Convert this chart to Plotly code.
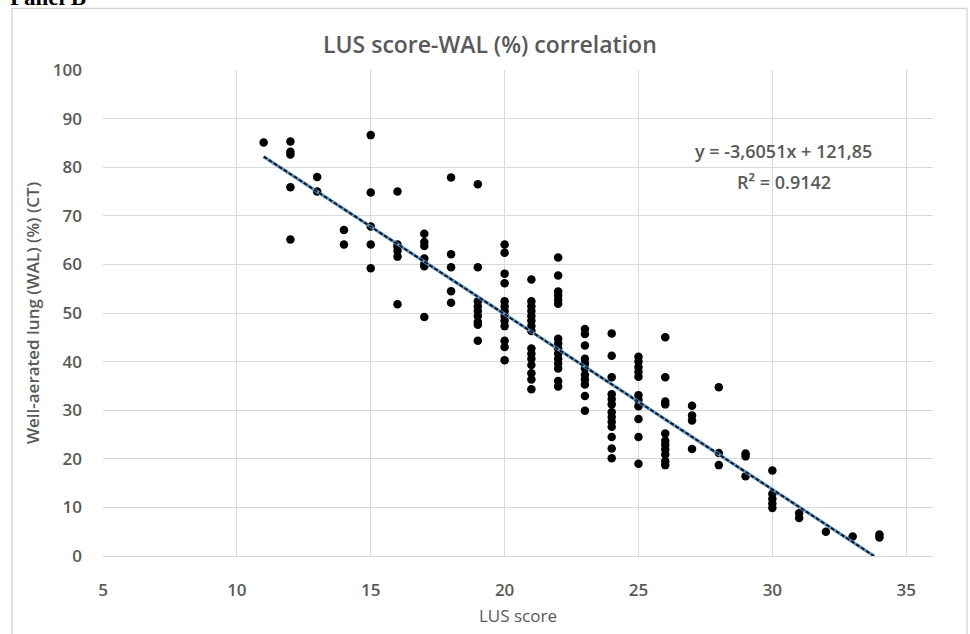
import plotly.graph_objects as go

# LUS score of each patient and the matching well-aerated lung percentage on CT
lus_score = (
    [11]
    + [12] * 5
    + [13] * 2
    + [14] * 2
    + [15] * 5
    + [16] * 6
    + [17] * 7
    + [18] * 5
    + [19] * 9
    + [20] * 13
    + [21] * 15
    + [22] * 15
    + [23] * 11
    + [24] * 13
    + [25] * 11
    + [26] * 11
    + [27] * 4
    + [28] * 3
    + [29] * 3
    + [30] * 5
    + [31] * 2
    + [32]
    + [33]
    + [34] * 2
)

wal_ct = [
    85.1,
    85.3, 83.2, 82.6, 75.9, 65.1,
    78.0, 75.0,
    67.1, 64.1,
    86.6, 74.8, 67.8, 64.1, 59.2,
    75.0, 64.1, 63.6, 62.8, 61.6, 51.8,
    66.3, 64.6, 63.8, 61.2, 60.1, 59.6, 49.2,
    77.9, 62.1, 59.4, 54.5, 52.1,
    76.5, 59.4, 52.4, 51.4, 50.4, 49.4, 48.2, 47.6, 44.3,
    64.1, 62.4, 58.1, 56.1, 52.4, 51.4, 50.4, 49.4, 48.4, 47.3, 44.3, 43.0, 40.3,
    56.9, 52.4, 51.4, 50.4, 49.4, 48.4, 47.3, 46.3, 42.7, 41.6, 40.6, 39.3, 37.6, 36.3, 34.3,
    61.4, 57.7, 54.4, 53.6, 52.7, 51.9, 44.7, 43.7, 42.7, 41.6, 40.6, 39.6, 38.6, 36.0, 34.9,
    46.7, 45.7, 43.3, 40.6, 39.6, 38.6, 37.3, 36.3, 35.3, 32.9, 29.9,
    45.8, 41.2, 36.8, 33.3, 32.3, 31.2, 29.6, 28.6, 27.6, 26.6, 24.5, 22.1, 20.1,
    41.0, 40.0, 38.9, 37.9, 36.9, 33.1, 32.1, 30.8, 28.2, 24.5, 19.0,
    45.0, 36.8, 31.8, 31.2, 25.2, 23.7, 22.9, 21.9, 20.9, 19.5, 18.7,
    30.9, 28.9, 27.9, 22.0,
    34.7, 21.2, 18.7,
    21.1, 20.5, 16.4,
    17.6, 12.8, 11.8, 10.8, 9.9,
    8.8, 7.8,
    5.0,
    4.0,
    4.4, 3.8,
]

# Linear trendline coefficients and fit quality
slope = -3.6051
intercept = 121.85
r_squared = 0.9142

x_ticks = [5, 10, 15, 20, 25, 30, 35]
y_ticks = [0, 10, 20, 30, 40, 50, 60, 70, 80, 90, 100]

GRAY_TEXT = "#595959"
GRID = "#d9d9d9"
FONT = "Open Sans"

# trendline runs from the lowest score until it meets the y = 0 axis
trend_x = [min(lus_score), -intercept / slope]
trend_y = [slope * x + intercept for x in trend_x]

fig = go.Figure()

fig.add_trace(go.Scatter(
    x=lus_score, y=wal_ct, mode="markers",
    marker=dict(color="black", size=8.5, line=dict(width=0)),
    showlegend=False, hoverinfo="x+y",
))

fig.add_trace(go.Scatter(
    x=trend_x, y=trend_y, mode="lines",
    line=dict(color="#5b9bd5", width=3.2),
    showlegend=False, hoverinfo="skip",
))
fig.add_trace(go.Scatter(
    x=trend_x, y=trend_y, mode="lines",
    line=dict(color="#1a1a1a", width=2, dash="4px,2px"),
    showlegend=False, hoverinfo="skip",
))

def fmt_comma(v, nd):
    return f"{v:.{nd}f}".replace(".", ",")

eq_text = f"y = {fmt_comma(slope, 4)}x + {fmt_comma(intercept, 2)}"
r2_text = f"R² = {r_squared:.4f}"

fig.add_annotation(
    x=30.42, y=83.3, xref="x", yref="y", text=eq_text, showarrow=False,
    font=dict(family=FONT, size=18, color=GRAY_TEXT, weight=600),
)
fig.add_annotation(
    x=30.42, y=76.9, xref="x", yref="y", text=r2_text, showarrow=False,
    font=dict(family=FONT, size=18, color=GRAY_TEXT, weight=600),
)

# plot area spans 830 x 497 pixels
PW, PH = 830.0, 497.0
def px(xpix):
    return (xpix - 103) / PW
def py(ypix):
    return (567 - ypix) / PH

fig.add_annotation(
    x=px(490), y=py(43), xref="paper", yref="paper",
    text="LUS score-WAL (%) correlation", showarrow=False,
    xanchor="center", yanchor="middle",
    font=dict(family=FONT, size=23, color=GRAY_TEXT, weight=600),
)

# panel letter sits at the very top edge of the page
fig.add_annotation(
    x=px(8), y=py(11), xref="paper", yref="paper",
    text="Panel B", showarrow=False, xanchor="left", yanchor="bottom",
    font=dict(family="Liberation Serif", size=23, color="black", weight=700),
)

# light frame around the chart area
fig.add_shape(
    type="rect", xref="paper", yref="paper",
    x0=px(12), x1=px(967), y0=py(650), y1=py(7),
    line=dict(color="#d0d0d0", width=1.2), fillcolor="rgba(0,0,0,0)",
    layer="below",
)

fig.update_layout(
    width=970, height=634,
    margin=dict(l=103, r=37, t=70, b=67),
    paper_bgcolor="white", plot_bgcolor="white",
    font=dict(family=FONT, color=GRAY_TEXT),
    xaxis=dict(
        range=[5, 36], tickvals=x_ticks, showgrid=True, gridcolor=GRID,
        gridwidth=1.3, zeroline=False, showline=True, linecolor=GRID,
        linewidth=1.3, ticks="", ticklabelstandoff=18,
        tickfont=dict(family=FONT, size=17, color=GRAY_TEXT, weight=600),
        title=dict(text="LUS score", standoff=10,
                   font=dict(family=FONT, size=17, color=GRAY_TEXT)),
    ),
    yaxis=dict(
        range=[0, 100], tickvals=y_ticks, showgrid=True, gridcolor=GRID,
        gridwidth=1.3, zeroline=False, showline=False, ticks="",
        ticklabelstandoff=20,
        tickfont=dict(family=FONT, size=17, color=GRAY_TEXT, weight=600),
        title=dict(text="Well-aerated lung (WAL) (%) (CT)", standoff=8,
                   font=dict(family=FONT, size=17, color=GRAY_TEXT, weight=600)),
    ),
)

fig.write_html("out.html")
